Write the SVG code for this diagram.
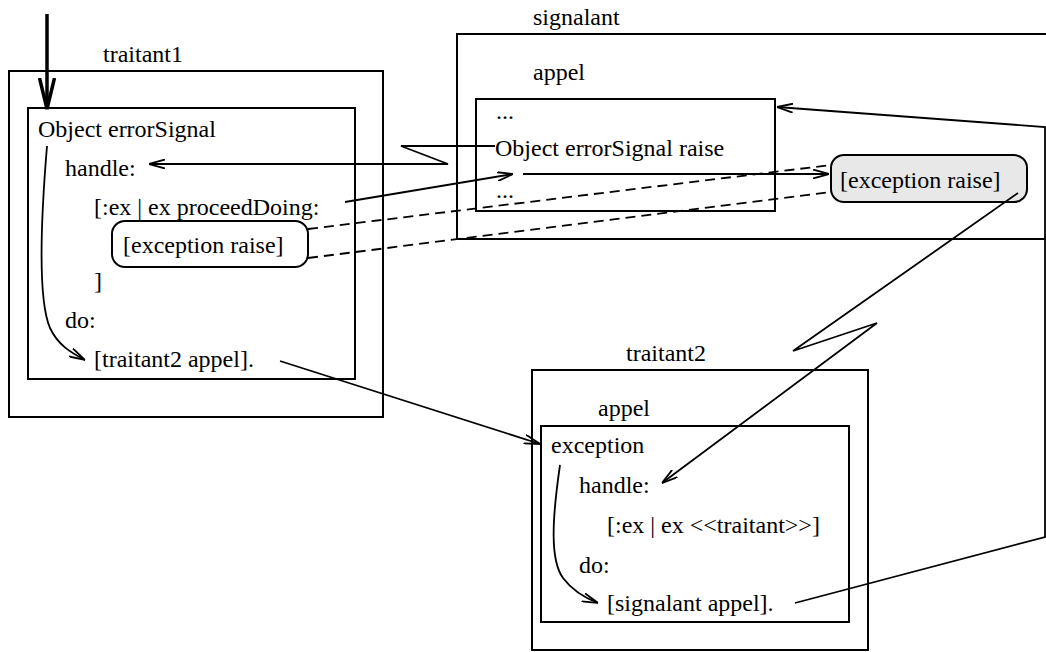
<svg xmlns="http://www.w3.org/2000/svg" width="1046" height="652" viewBox="0 0 1046 652">
<style>
text{font-family:"Liberation Serif","Times New Roman",serif;font-size:24px;fill:#000}
.box{fill:none;stroke:#000;stroke-width:2}
.rbox{stroke:#000;stroke-width:2}
.c{fill:none;stroke:#000;stroke-width:1.8}
.d{fill:none;stroke:#000;stroke-width:1.8;stroke-dasharray:10 6}
</style>
<defs>
<marker id="a" viewBox="0 0 16 10" refX="16" refY="5" markerUnits="userSpaceOnUse" markerWidth="16" markerHeight="10" orient="auto">
<path d="M0,0.5 L16,5 L0,9.5" fill="none" stroke="#000" stroke-width="1.8"/>
</marker>
<marker id="big" viewBox="0 0 32 18" refX="31" refY="9" markerUnits="userSpaceOnUse" markerWidth="32" markerHeight="18" orient="auto">
<path d="M0,1.5 L31,9 L0,16.5" fill="none" stroke="#000" stroke-width="3.5"/>
</marker>
</defs>
<rect width="1046" height="652" fill="#fff"/>

<g id="traitant1">
<text x="103" y="62">traitant1</text>
<rect class="box" x="9" y="71" width="374" height="346"/>
<rect class="box" x="28" y="108" width="327" height="271"/>
<text x="38" y="137">Object errorSignal</text>
<text x="65" y="176">handle:</text>
<text x="94" y="215">[:ex | ex proceedDoing:</text>
<text x="94" y="289">]</text>
<text x="65" y="328">do:</text>
<text x="94" y="367">[traitant2 appel].</text>
</g>

<g id="block1">
<rect class="rbox" x="112" y="221" width="196" height="46" rx="13" fill="#fff"/>
<text x="123" y="253">[exception raise]</text>
</g>

<g id="signalant">
<text x="533" y="25">signalant</text>
<path class="box" d="M1047,34 H457 V239 H1047"/>
<text x="533" y="80">appel</text>
<rect class="box" x="476" y="99" width="299" height="112"/>
<text x="496" y="119">...</text>
<text x="495" y="156">Object errorSignal raise</text>
<text x="496" y="198">...</text>
</g>

<g id="block2">
<rect class="rbox" x="831" y="155" width="196" height="47" rx="13" fill="#e8e8e8"/>
<text x="840" y="188">[exception raise]</text>
</g>

<g id="traitant2">
<text x="626" y="361">traitant2</text>
<rect class="box" x="532" y="370" width="336" height="280"/>
<text x="598" y="416">appel</text>
<rect class="box" x="541" y="426" width="308" height="196"/>
<text x="551" y="453">exception</text>
<text x="579" y="493">handle:</text>
<text x="607" y="533">[:ex | ex &lt;&lt;traitant&gt;&gt;]</text>
<text x="579" y="573">do:</text>
<text x="607" y="611">[signalant appel].</text>
</g>

<g id="connectors">
<line x1="47" y1="14" x2="47" y2="109" stroke="#000" stroke-width="3.5" marker-end="url(#big)"/>
<path class="c" d="M47,146 C40,230 38,300 50,328 C58,345 70,352 85,360" marker-end="url(#a)"/>
<polyline class="c" points="495,146 401,146 448,164 149,164" marker-end="url(#a)"/>
<line class="c" x1="345" y1="202" x2="513" y2="174" marker-end="url(#a)"/>
<line class="c" x1="523" y1="174" x2="829" y2="174" marker-end="url(#a)"/>
<line class="d" x1="308" y1="229" x2="831" y2="165"/>
<line class="d" x1="308" y1="258" x2="831" y2="192"/>
<polyline class="c" points="1018,193 793,351 877,323 662,483" marker-end="url(#a)"/>
<line class="c" x1="280" y1="361" x2="540" y2="444" marker-end="url(#a)"/>
<path class="c" d="M560,465 C552,520 550,560 563,578 C572,590 585,598 598,603" marker-end="url(#a)"/>
<polyline class="c" points="795,603 1045,537 1045,127 777,107" marker-end="url(#a)"/>
</g>
</svg>
